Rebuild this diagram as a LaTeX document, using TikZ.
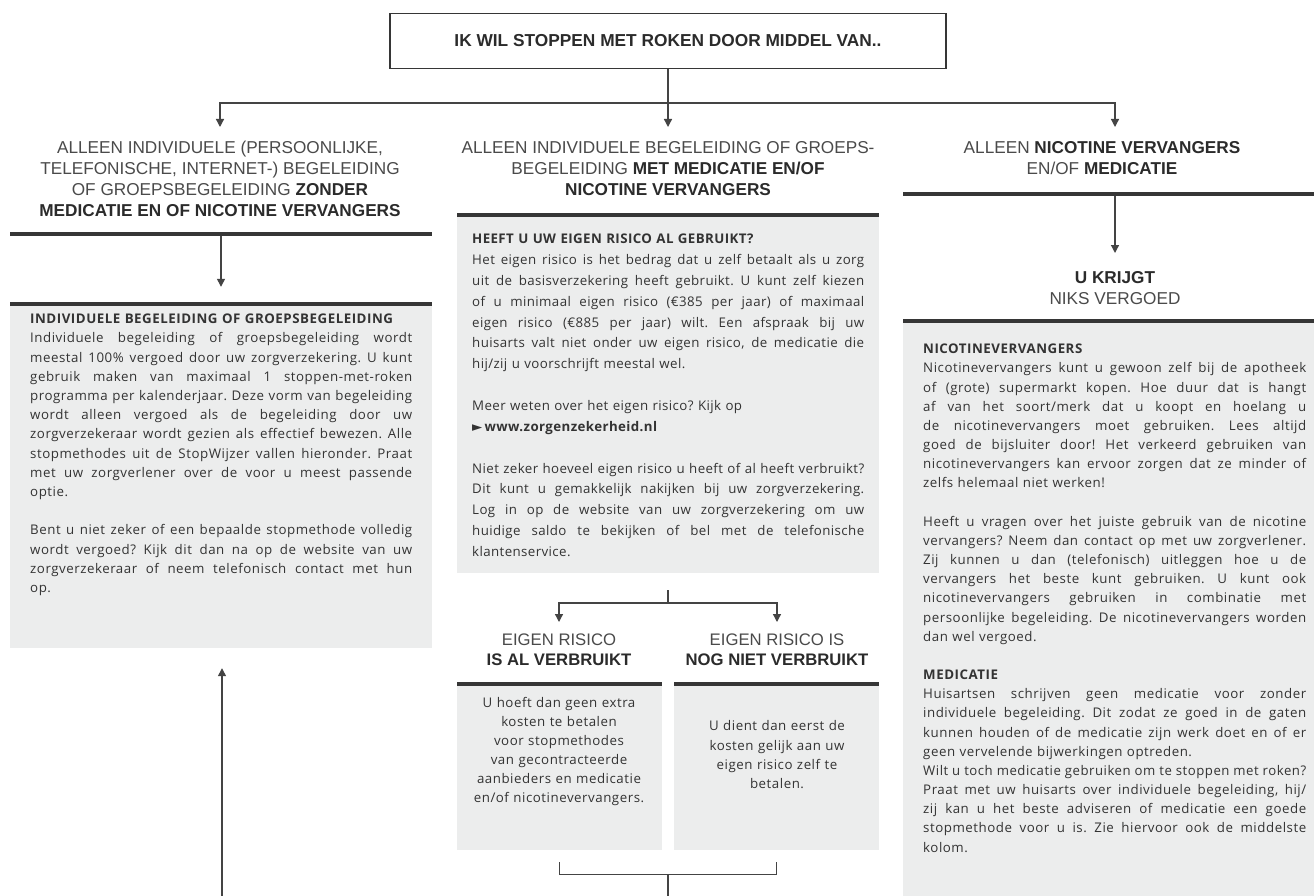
\documentclass[tikz,border=0pt]{standalone}
\usepackage{fontspec}
\usepackage{graphicx}
\usetikzlibrary{arrows.meta}
\setmainfont{Liberation Sans}
\newfontfamily\headf{Liberation Sans}
\newfontfamily\bodyf{Open Sans}[LetterSpace=4]
\newfontfamily\bodym{Open Sans}[LetterSpace=3]
\newfontfamily\symf{DejaVu Sans}
\definecolor{boxgray}{HTML}{ECEDED}
\definecolor{barc}{HTML}{363636}
\definecolor{linec}{HTML}{444444}
\definecolor{txt}{HTML}{333333}
\definecolor{headg}{HTML}{4A4A4A}
\definecolor{headb}{HTML}{2B2B2B}
\newlength\jw
\newcommand\J[1]{{\frenchspacing\spaceskip=\fontdimen2\font plus 1fil minus 0.3\fontdimen2\font\relax
  \settowidth\jw{#1}\ifdim\jw>\linewidth\resizebox{\linewidth}{\height}{#1}\else\makebox[\linewidth][s]{#1}\fi\par}}
\newcommand\hb[1]{{\bfseries\color{headb}#1}}
\tikzset{
  conn/.style={draw=linec, line width=1.3pt},
  arr/.style={conn, -{Triangle[width=8pt,length=8pt]}},
  graybox/.style={fill=boxgray, draw=none, inner sep=0pt},
  bar/.style={fill=barc, draw=none, inner sep=0pt, minimum height=4.5pt},
  head/.style={font=\headf\fontsize{17.2}{21}\selectfont, text=headg, align=center, inner sep=0pt, anchor=north},
  subhead/.style={font=\headf\fontsize{16.7}{20}\selectfont, text=headg, align=center, inner sep=0pt, anchor=north},
  btext/.style={font=\bodyf\frenchspacing\fontsize{13.3}{19.2}\selectfont, text=txt, inner sep=0pt, anchor=north west, align=left},
  topbox/.style={draw=barc, line width=1.3pt, minimum width=556pt, minimum height=55pt, inner sep=0pt,
    font=\headf\bfseries\fontsize{17.3}{20}\selectfont, text=headb}
}
\begin{document}
\begin{tikzpicture}[x=1pt,y=-1pt]
\useasboundingbox[fill=white] (0,0) rectangle (1314,896);

% top box
\node[topbox] (top) at (668,41) {IK WIL STOPPEN MET ROKEN DOOR MIDDEL VAN..};

% headings
\node[head] (hL) at (220,138.3) {\strut ALLEEN INDIVIDUELE (PERSOONLIJKE,\\TELEFONISCHE, INTERNET-) BEGELEIDING\\OF GROEPSBEGELEIDING \hb{ZONDER}\\\hb{MEDICATIE EN OF NICOTINE VERVANGERS}};
\node[head] (hM) at (668,138.3) {\strut ALLEEN INDIVIDUELE BEGELEIDING OF GROEPS-\\BEGELEIDING \hb{MET MEDICATIE EN/OF}\\\hb{NICOTINE VERVANGERS}};
\node[head] (hR) at (1102,138.3) {\strut ALLEEN \hb{NICOTINE VERVANGERS}\\EN/OF \hb{MEDICATIE}};
\node[head] (uk) at (1115,268.3) {\strut\hb{U KRIJGT}\\NIKS VERGOED};

% gray boxes
\node[graybox, minimum width=422pt, minimum height=344pt] (boxL) at (221,476) {};
\node[graybox, minimum width=422pt, minimum height=358pt] (boxM) at (668,394) {};
\node[graybox, minimum width=205pt, minimum height=166pt] (subL) at (559.5,767) {};
\node[graybox, minimum width=205pt, minimum height=166pt] (subR) at (776.5,767) {};
\node[graybox, minimum width=411pt, minimum height=575pt] (boxR) at (1108.5,608.5) {};

% bars
\node[bar, minimum width=422pt] (barL) at (221,234) {};
\node[bar, minimum width=422pt] (barL2) at (221,304) {};
\node[bar, minimum width=422pt] (barM) at (668,215) {};
\node[bar, minimum width=411pt] (barR) at (1108.5,194) {};
\node[bar, minimum width=411pt] (barR2) at (1108.5,321) {};
\node[bar, minimum width=205pt] (barSL) at (559.5,684) {};
\node[bar, minimum width=205pt] (barSR) at (776.5,684) {};

% sub headings
\node[subhead] (shL) at (559,631) {\strut EIGEN RISICO\\\hb{IS AL VERBRUIKT}};
\node[subhead] (shR) at (777,631) {\strut EIGEN RISICO IS\\\hb{NOG NIET VERBRUIKT}};

% texts
\node[btext, text width=382pt] (tL) at (30,310.1) {%
\strut\textbf{INDIVIDUELE BEGELEIDING OF GROEPSBEGELEIDING}\par
\J{Individuele begeleiding of groepsbegeleiding wordt}
\J{meestal 100\% vergoed door uw zorgverzekering. U kunt}
\J{gebruik maken van maximaal 1 stoppen-met-roken}
\J{programma per kalenderjaar. Deze vorm van begeleiding}
\J{wordt alleen vergoed als de begeleiding door uw}
\J{zorgverzekeraar wordt gezien als effectief bewezen. Alle}
\J{stopmethodes uit de StopWijzer vallen hieronder. Praat}
\J{met uw zorgverlener over de voor u meest passende}
optie.\par
\mbox{}\par
\J{Bent u niet zeker of een bepaalde stopmethode volledig}
\J{wordt vergoed? Kijk dit dan na op de website van uw}
\J{zorgverzekeraar of neem telefonisch contact met hun}
op.\par};

\node[btext, text width=392pt, font=\bodym\frenchspacing\fontsize{13.3}{20.85}\selectfont] (tM) at (472,228.9) {%
\strut\textbf{HEEFT U UW EIGEN RISICO AL GEBRUIKT?}\par
\J{Het eigen risico is het bedrag dat u zelf betaalt als u zorg}
\J{uit de basisverzekering heeft gebruikt. U kunt zelf kiezen}
\J{of u minimaal eigen risico (€385 per jaar) of maximaal}
\J{eigen risico (€885 per jaar) wilt. Een afspraak bij uw}
\J{huisarts valt niet onder uw eigen risico, de medicatie die}
hij/zij u voorschrijft meestal wel.\par
\mbox{}\par
Meer weten over het eigen risico? Kijk op\par
{\symf ►}\,\textbf{www.zorgenzekerheid.nl}\par
\mbox{}\par
\J{Niet zeker hoeveel eigen risico u heeft of al heeft verbruikt?}
\J{Dit kunt u gemakkelijk nakijken bij uw zorgverzekering.}
\J{Log in op de website van uw zorgverzekering om uw}
\J{huidige saldo te bekijken of bel met de telefonische}
klantenservice.\par};

\node[btext, text width=383pt, font=\bodyf\frenchspacing\fontsize{13.3}{19.17}\selectfont] (tR) at (923,340.1) {%
\strut\textbf{NICOTINEVERVANGERS}\par
\J{Nicotinevervangers kunt u gewoon zelf bij de apotheek}
\J{of (grote) supermarkt kopen. Hoe duur dat is hangt}
\J{af van het soort/merk dat u koopt en hoelang u}
\J{de nicotinevervangers moet gebruiken. Lees altijd}
\J{goed de bijsluiter door! Het verkeerd gebruiken van}
\J{nicotinevervangers kan ervoor zorgen dat ze minder of}
zelfs helemaal niet werken!\par
\mbox{}\par
\J{Heeft u vragen over het juiste gebruik van de nicotine}
\J{vervangers? Neem dan contact op met uw zorgverlener.}
\J{Zij kunnen u dan (telefonisch) uitleggen hoe u de}
\J{vervangers het beste kunt gebruiken. U kunt ook}
\J{nicotinevervangers gebruiken in combinatie met}
\J{persoonlijke begeleiding. De nicotinevervangers worden}
dan wel vergoed.\par
\mbox{}\par
\textbf{MEDICATIE}\par
\J{Huisartsen schrijven geen medicatie voor zonder}
\J{individuele begeleiding. Dit zodat ze goed in de gaten}
\J{kunnen houden of de medicatie zijn werk doet en of er}
geen vervelende bijwerkingen optreden.\par
\J{Wilt u toch medicatie gebruiken om te stoppen met roken?}
\J{Praat met uw huisarts over individuele begeleiding, hij/}
\J{zij kan u het beste adviseren of medicatie een goede}
\J{stopmethode voor u is. Zie hiervoor ook de middelste}
kolom.\par};

\node[btext, anchor=north, text width=200pt, align=center, font=\bodyf\frenchspacing\fontsize{13.3}{19}\selectfont] (tSL) at (559,694.2) {\strut U hoeft dan geen extra\\kosten te betalen\\voor stopmethodes\\van gecontracteerde\\aanbieders en medicatie\\en/of nicotinevervangers.};
\node[btext, anchor=north, text width=200pt, align=center, font=\bodyf\frenchspacing\fontsize{13.3}{19.3}\selectfont] (tSR) at (777,717) {\strut U dient dan eerst de\\kosten gelijk aan uw\\eigen risico zelf te\\betalen.};

% connectors
\coordinate (split) at (668,103);
\coordinate (aR) at (1115,127);
\draw[conn] (top.south) -- (split);
\draw[arr, shorten >=11.3pt] (split) -| (hL.north);
\draw[arr, shorten >=11.3pt] (split) -- (hM.north);
\draw[arr] (split) -| (aR);
\draw[arr, shorten >=17pt] (barL.south) -- (boxL.north);
\draw[arr, shorten >=15.3pt] (barR.south -| uk.north) -- (uk.north);

\coordinate (msplit) at (668,603);
\draw[conn, shorten <=17pt] (boxM.south) -- (msplit);
\draw[arr, shorten >=9pt] (msplit) -| (shL.north);
\draw[arr, shorten >=9pt] (msplit) -| (shR.north);

\draw[conn, shorten <=12pt, shorten >=12pt] (subL.south) -- ++(0,24) -| (subR.south);
\coordinate (mjoin) at (668,874);
\coordinate (bottomM) at (668,896);
\draw[conn] (mjoin) -- (bottomM);

\coordinate (bottomL) at (222,896);
\draw[arr, shorten >=20pt] (bottomL) -- (boxL.south -| bottomL);
\end{tikzpicture}
\end{document}
